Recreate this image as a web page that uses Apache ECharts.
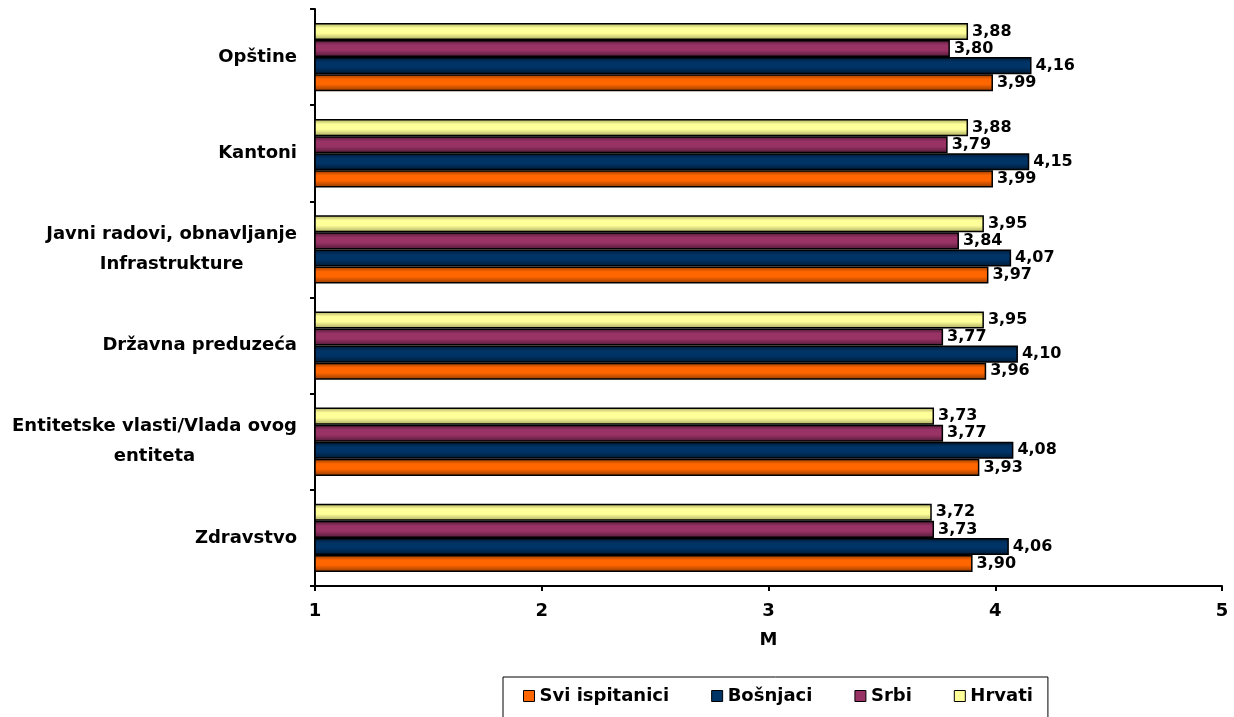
<!DOCTYPE html>
<html>
<head>
<meta charset="utf-8">
<script src="https://cdn.jsdelivr.net/npm/echarts@6/dist/echarts.min.js"></script>
<style>html,body{margin:0;padding:0;background:#fff}#c{width:1234px;height:717px}</style>
</head>
<body>
<div id="c"></div>
<script>
// categories bottom -> top
const categories = [
  'Zdravstvo',
  'Entitetske vlasti/Vlada ovog\nentiteta',
  'Državna preduzeća',
  'Javni radovi, obnavljanje\nInfrastrukture',
  'Kantoni',
  'Opštine'
];
const seriesNames = ['Svi ispitanici', 'Bošnjaci', 'Srbi', 'Hrvati'];
const sviIspitanici = [3.90, 3.93, 3.96, 3.97, 3.99, 3.99];
const bosnjaci      = [4.06, 4.08, 4.10, 4.07, 4.15, 4.16];
const srbi          = [3.73, 3.77, 3.77, 3.84, 3.79, 3.80];
const hrvati        = [3.72, 3.73, 3.95, 3.95, 3.88, 3.88];
const xTicks = [1, 2, 3, 4, 5];

const FONT = 'DejaVu Sans';
const palette = [
  {main: '#FF6600', dark: '#8F3A00'},
  {main: '#003366', dark: '#001A33'},
  {main: '#993366', dark: '#4F1A35'},
  {main: '#FFFF99', dark: '#A6A660'}
];
function grad(p) {
  return new echarts.graphic.LinearGradient(0, 0, 0, 1, [
    {offset: 0, color: p.dark},
    {offset: 0.3, color: p.main},
    {offset: 0.6, color: p.main},
    {offset: 1, color: p.dark}
  ]);
}
const allData = [sviIspitanici, bosnjaci, srbi, hrvati];
// draw order: first series is placed at the top of each group
const drawOrder = [3, 2, 1, 0];

const chart = echarts.init(document.getElementById('c'));
chart.setOption({
  animation: false,
  backgroundColor: '#fff',
  grid: {left: 315, right: 12, top: 9, bottom: 131, containLabel: false},
  legend: {
    left: 503, top: 677,
    orient: 'horizontal',
    padding: [10, 15, 30, 20],
    borderColor: '#000', borderWidth: 1,
    itemWidth: 11, itemHeight: 11, itemGap: 42,
    icon: 'rect',
    textStyle: {fontFamily: FONT, fontWeight: 'bold', fontSize: 18, color: '#000'},
    data: seriesNames.map((n, i) => ({
      name: n,
      itemStyle: {color: palette[i].main, borderColor: '#000', borderWidth: 1}
    }))
  },
  xAxis: {
    type: 'value', min: xTicks[0], max: xTicks[xTicks.length - 1], interval: 1,
    name: 'M', nameLocation: 'middle', nameGap: 45,
    nameTextStyle: {fontFamily: FONT, fontWeight: 'bold', fontSize: 18, color: '#000'},
    axisLine: {show: true, lineStyle: {color: '#000', width: 2}},
    axisTick: {show: true, length: 5, lineStyle: {color: '#000', width: 2}},
    axisLabel: {fontFamily: FONT, fontWeight: 'bold', fontSize: 18, color: '#000', margin: 16},
    splitLine: {show: false}
  },
  yAxis: {
    type: 'category', data: categories,
    axisLine: {show: true, lineStyle: {color: '#000', width: 2}},
    axisTick: {show: true, length: 5, lineStyle: {color: '#000', width: 2}},
    axisLabel: {
      margin: 18,
      align: 'right',
      formatter: v => v.split('\n').map(s => '{c|' + s + '}').join('\n'),
      rich: {
        c: {fontFamily: FONT, fontWeight: 'bold', fontSize: 18, color: '#000', align: 'center', lineHeight: 30}
      }
    }
  },
  series: drawOrder.map(i => ({
    name: seriesNames[i],
    type: 'bar',
    data: allData[i],
    barGap: '0%',
    barCategoryGap: '29%',
    itemStyle: {color: grad(palette[i]), borderColor: '#000', borderWidth: 1.5},
    label: {
      show: true, position: 'right', distance: 4,
      fontFamily: FONT, fontWeight: 'bold', fontSize: 16, color: '#000',
      formatter: p => p.value.toFixed(2).replace('.', ',')
    }
  }))
});
</script>
</body>
</html>
